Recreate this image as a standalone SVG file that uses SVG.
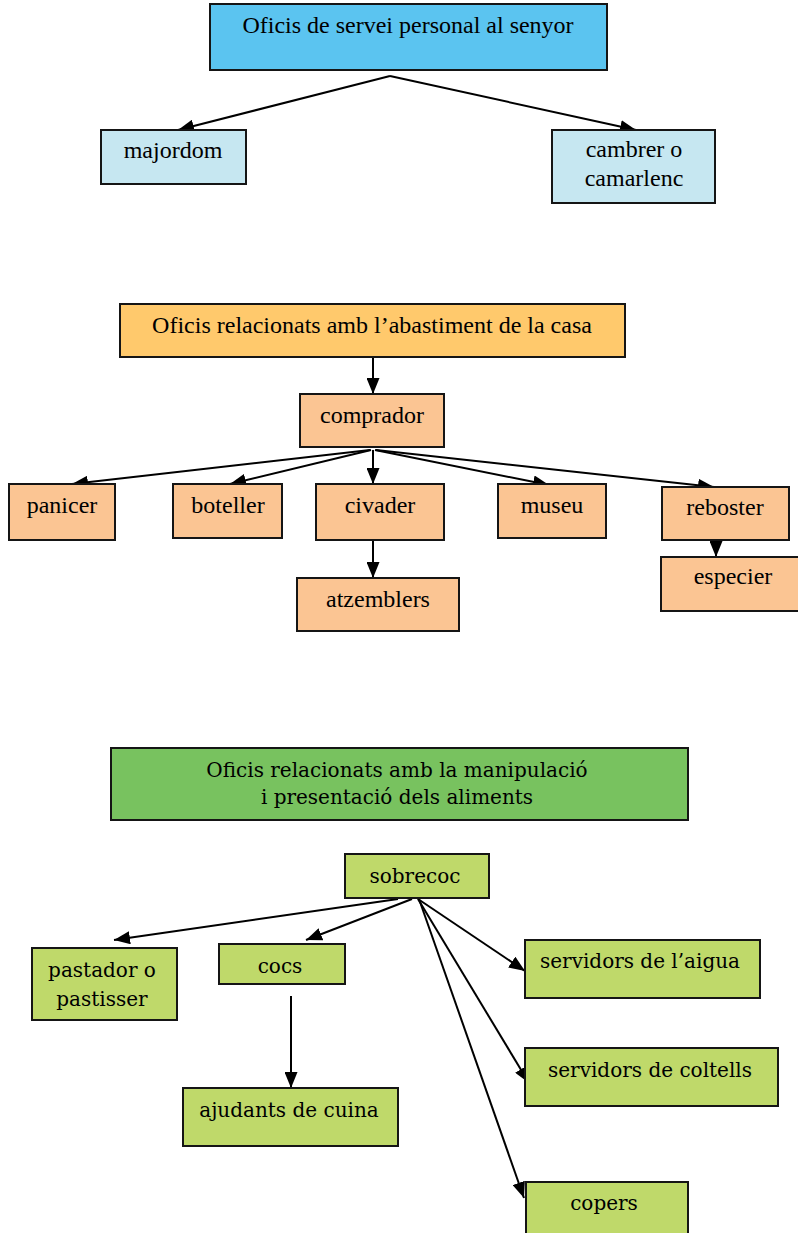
<svg xmlns="http://www.w3.org/2000/svg" width="798" height="1233" viewBox="0 0 798 1233">
<style>
  .box { stroke: #151515; stroke-width: 2; }
  .t { font-family: "Liberation Serif", "Times New Roman", serif; font-size: 24px; fill: #000; text-anchor: middle; }
  .c { font-family: "DejaVu Serif", "Liberation Serif", serif; font-size: 20px; fill: #000; text-anchor: middle; }
  .con { stroke: #000; stroke-width: 2; fill: none; marker-end: url(#ah); }
  .blue1 { fill: #5BC4F0; }
  .blue2 { fill: #C6E7F1; }
  .or1 { fill: #FFC96C; }
  .or2 { fill: #FBC593; }
  .gr1 { fill: #78C25F; }
  .gr2 { fill: #BFD96A; }
</style>
<defs>
  <marker id="ah" markerUnits="userSpaceOnUse" markerWidth="16" markerHeight="13" refX="16" refY="6.5" orient="auto">
    <path d="M0,0 L16,6.5 L0,13 z" fill="#000"/>
  </marker>
</defs>
<rect width="798" height="1233" fill="#fff"/>

<g id="connectors">
  <line class="con" x1="390" y1="76" x2="178" y2="130"/>
  <line class="con" x1="390" y1="76" x2="636" y2="130"/>

  <line class="con" x1="373" y1="358" x2="373" y2="394"/>
  <line class="con" x1="370" y1="450" x2="72" y2="484"/>
  <line class="con" x1="371" y1="450" x2="230" y2="484"/>
  <line class="con" x1="373" y1="450" x2="373" y2="484"/>
  <line class="con" x1="375" y1="450" x2="549" y2="485"/>
  <line class="con" x1="376" y1="450" x2="714" y2="487"/>
  <line class="con" x1="373" y1="538" x2="373" y2="578"/>
  <line class="con" x1="716" y1="540" x2="716" y2="557"/>

  <line class="con" x1="398" y1="899" x2="114" y2="940"/>
  <line class="con" x1="412" y1="899" x2="306" y2="940"/>
  <line class="con" x1="291" y1="996" x2="291" y2="1088"/>
  <line class="con" x1="418" y1="899" x2="525" y2="971"/>
  <line class="con" x1="418" y1="899" x2="529" y2="1083"/>
  <line class="con" x1="419" y1="899" x2="524" y2="1198"/>
</g>

<g id="n-servei">
  <rect class="box blue1" x="210" y="4" width="397" height="66"/>
  <text class="t" x="408" y="33">Oficis de servei personal al senyor</text>
</g>
<g id="n-majordom">
  <rect class="box blue2" x="101" y="130" width="145" height="54"/>
  <text class="t" x="173" y="158">majordom</text>
</g>
<g id="n-cambrer">
  <rect class="box blue2" x="552" y="130" width="163" height="73"/>
  <text class="t" x="634" y="157">cambrer o</text>
  <text class="t" x="634" y="186">camarlenc</text>
</g>

<g id="n-abastiment">
  <rect class="box or1" x="120" y="304" width="505" height="53"/>
  <text class="t" x="372" y="333">Oficis relacionats amb l’abastiment de la casa</text>
</g>
<g id="n-comprador">
  <rect class="box or2" x="300" y="394" width="144" height="53"/>
  <text class="t" x="372" y="423">comprador</text>
</g>
<g id="n-panicer">
  <rect class="box or2" x="9" y="484" width="106" height="56"/>
  <text class="t" x="62" y="513">panicer</text>
</g>
<g id="n-boteller">
  <rect class="box or2" x="173" y="484" width="109" height="54"/>
  <text class="t" x="228" y="513">boteller</text>
</g>
<g id="n-civader">
  <rect class="box or2" x="316" y="484" width="128" height="56"/>
  <text class="t" x="380" y="513">civader</text>
</g>
<g id="n-museu">
  <rect class="box or2" x="498" y="484" width="108" height="54"/>
  <text class="t" x="552" y="513">museu</text>
</g>
<g id="n-reboster">
  <rect class="box or2" x="662" y="487" width="127" height="53"/>
  <text class="t" x="725" y="515">reboster</text>
</g>
<g id="n-especier">
  <rect class="box or2" x="661" y="557" width="145" height="54"/>
  <text class="t" x="733" y="584">especier</text>
</g>
<g id="n-atzemblers">
  <rect class="box or2" x="297" y="578" width="162" height="53"/>
  <text class="t" x="378" y="607">atzemblers</text>
</g>

<g id="n-manipulacio">
  <rect class="box gr1" x="111" y="748" width="577" height="72"/>
  <text class="c" x="397" y="777">Oficis relacionats amb la manipulació</text>
  <text class="c" x="397" y="804">i presentació dels aliments</text>
</g>
<g id="n-sobrecoc">
  <rect class="box gr2" x="345" y="854" width="144" height="44"/>
  <text class="c" x="415" y="883">sobrecoc</text>
</g>
<g id="n-pastador">
  <rect class="box gr2" x="32" y="948" width="145" height="72"/>
  <text class="c" x="102" y="977">pastador o</text>
  <text class="c" x="102" y="1006">pastisser</text>
</g>
<g id="n-cocs">
  <rect class="box gr2" x="219" y="944" width="126" height="40"/>
  <text class="c" x="280" y="973">cocs</text>
</g>
<g id="n-ajudants">
  <rect class="box gr2" x="183" y="1088" width="215" height="58"/>
  <text class="c" x="289" y="1117">ajudants de cuina</text>
</g>
<g id="n-aigua">
  <rect class="box gr2" x="525" y="940" width="235" height="58"/>
  <text class="c" x="640" y="968">servidors de l’aigua</text>
</g>
<g id="n-coltells">
  <rect class="box gr2" x="525" y="1048" width="253" height="58"/>
  <text class="c" x="650" y="1077">servidors de coltells</text>
</g>
<g id="n-copers">
  <rect class="box gr2" x="526" y="1182" width="162" height="60"/>
  <text class="c" x="604" y="1210">copers</text>
</g>
</svg>
